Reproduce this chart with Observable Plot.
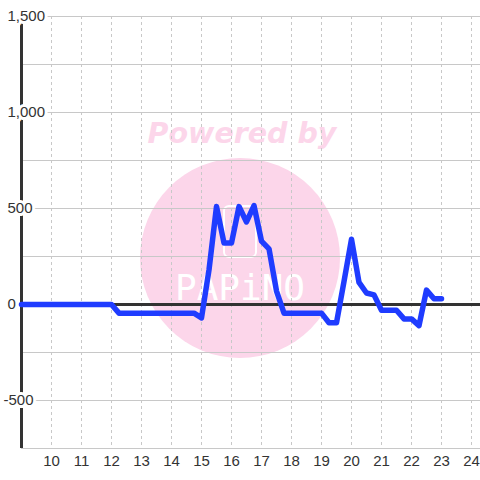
<!DOCTYPE html>
<html>
<head>
<meta charset="utf-8">
<script src="https://cdn.jsdelivr.net/npm/d3@7"></script>
<script src="https://cdn.jsdelivr.net/npm/@observablehq/plot@0.6"></script>
<style>
  html, body { margin: 0; padding: 0; background: white; }
  #wrap { position: relative; width: 480px; height: 480px; }
  #wm, #chart { position: absolute; left: 0; top: 0; }
</style>
</head>
<body>
<div id="wrap">
  <svg id="wm" width="480" height="480">
    <circle cx="240" cy="258" r="100" fill="#fcd6ea"></circle>
    <text x="242" y="143" text-anchor="middle" font-family="DejaVu Sans" font-weight="bold" font-style="italic" font-size="28.5" fill="#fcd6ea">Powered by</text>
    <rect x="224" y="206" width="32" height="51" rx="5" fill="none" stroke="white" stroke-width="2"></rect>
    <text x="240" y="300" text-anchor="middle" font-family="DejaVu Sans Mono" font-size="36" fill="white">PAPiNO</text>
  </svg>
  <div id="chart"></div>
</div>
<script>
const times = [9, 9.25, 9.5, 9.75, 10, 10.25, 10.5, 10.75, 11, 11.25, 11.5, 11.75, 12,
  12.25, 12.5, 12.75, 13, 13.25, 13.5, 13.75, 14, 14.25, 14.5, 14.75,
  15, 15.25, 15.5, 15.75, 16, 16.25, 16.5, 16.75, 17, 17.25, 17.5, 17.75,
  18, 18.25, 18.5, 18.75, 19,
  19.25, 19.5, 19.75, 20, 20.25, 20.5, 20.75, 21, 21.25, 21.5, 21.75, 22, 22.25, 22.5, 22.75, 23];
const values = [0, 0, 0, 0, 0, 0, 0, 0, 0, 0, 0, 0, 0,
  -45, -45, -45, -45, -45, -45, -45, -45, -45, -45, -45,
  -70, 180, 510, 320, 320, 510, 430, 515, 330, 290, 70, -45,
  -45, -45, -45, -45, -45,
  -95, -95, 120, 340, 115, 60, 50, -30, -30, -30, -75, -75, -110, 75, 30, 30];
const xTicks = [10, 11, 12, 13, 14, 15, 16, 17, 18, 19, 20, 21, 22, 23, 24];
const yGridValues = [-750, -500, -250, 0, 250, 500, 750, 1000, 1250, 1500];
const yTickValues = [-500, 0, 500, 1000, 1500];
const yTickLabels = ["-500", "0", "500", "1,000", "1,500"];

const data = times.map((t, i) => ({t, v: values[i]}));
const yLabels = yTickValues.map((v, i) => ({v, label: yTickLabels[i]}));
const labelStyle = {x: () => 9, y: "v", text: "label", textAnchor: "start",
  fill: "#333", stroke: "white", strokeWidth: 6, fontSize: 15, lineAnchor: "middle"};

const chart = Plot.plot({
  width: 480,
  height: 480,
  marginLeft: 21,
  marginRight: 0,
  marginTop: 16,
  marginBottom: 32,
  style: {background: "transparent", fontFamily: "Liberation Sans, Arial, sans-serif"},
  x: {domain: [9, 24.3], axis: null},
  y: {domain: [-750, 1500], axis: null},
  marks: [
    Plot.gridY(yGridValues, {stroke: "#c8c8c8", strokeOpacity: 1, strokeWidth: 1}),
    Plot.gridX(xTicks, {stroke: "#c8c8c8", strokeOpacity: 1, strokeWidth: 1, strokeDasharray: "3,3"}),
    Plot.ruleY([0], {stroke: "#333", strokeWidth: 3}),
    Plot.ruleX([9], {stroke: "#333", strokeWidth: 3}),
    Plot.text(yLabels.filter(d => d.v >= 0), {...labelStyle, dx: -14}),
    Plot.text(yLabels.filter(d => d.v < 0), {...labelStyle, dx: -18}),
    Plot.lineY(data, {x: "t", y: "v", stroke: "#1f3cff", strokeWidth: 5.5}),
    Plot.text(xTicks, {x: d => d, frameAnchor: "bottom", dy: 13, text: d => String(d),
      fill: "#333", fontSize: 15, lineAnchor: "middle"})
  ]
});
document.getElementById("chart").appendChild(chart);
</script>
</body>
</html>
